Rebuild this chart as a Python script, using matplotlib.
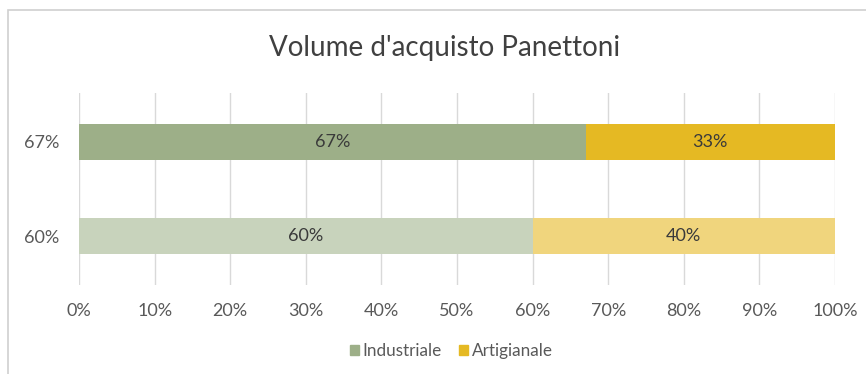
import matplotlib.pyplot as plt
from matplotlib.patches import Rectangle, Patch

plt.rcParams['font.family'] = ['Lato', 'DejaVu Sans']

categories = ['60%', '67%']
industriale = [60, 67]
artigianale = [40, 33]
ind_colors = ['#C8D3BC', '#9DAF88']
art_colors = ['#F0D57D', '#E5B923']

fig = plt.figure(figsize=(8.66, 3.74), dpi=100)
# cornice grigia del grafico
fig.patches.append(Rectangle((8 / 866, -0.1), 1.0, 1.1 - 10 / 374, transform=fig.transFigure,
                             fill=False, edgecolor='#D0D0D0', linewidth=1.2))
ax = fig.add_axes([79 / 866, 1 - 285 / 374, 756 / 866, 192 / 374])

y = list(range(len(categories)))
ax.barh(y, industriale, height=0.39, color=ind_colors, zorder=2)
ax.barh(y, artigianale, left=industriale, height=0.39, color=art_colors, zorder=2)

# etichette dentro le barre
for i in y:
    ax.text(industriale[i] / 2, i, f'{industriale[i]}%', ha='center', va='center',
            fontsize=13, color='#3A3A3A', zorder=3)
    ax.text(industriale[i] + artigianale[i] / 2, i, f'{artigianale[i]}%', ha='center',
            va='center', fontsize=13, color='#3A3A3A', zorder=3)

ax.set_xlim(0, 100)
ax.set_ylim(-0.52, 1.52)
ax.set_xticks(range(0, 101, 10))
ax.set_xticklabels([f'{v}%' for v in range(0, 101, 10)])
ax.set_yticks(y)
ax.set_yticklabels(categories)
ax.tick_params(axis='both', length=0, labelsize=13, labelcolor='#595959')
ax.tick_params(axis='x', pad=13)
ax.tick_params(axis='y', pad=14)
ax.grid(axis='x', color='#D9D9D9', linewidth=1, zorder=0)
for s in ax.spines.values():
    s.set_visible(False)

fig.text(445 / 866, 1 - 48 / 374, "Volume d'acquisto Panettoni", ha='center', va='center',
         fontsize=20, color='#404040')

handles = [Patch(color='#9DAF88'), Patch(color='#E5B923')]
fig.legend(handles, ['Industriale', 'Artigianale'], loc='center',
           bbox_to_anchor=(451 / 866, 1 - 351 / 374),
           ncol=2, frameon=False, fontsize=12.3, handlelength=0.55, handleheight=0.55,
           handletextpad=0.2, columnspacing=1.0, labelcolor='#595959')

fig.savefig('out.png', dpi=100)
